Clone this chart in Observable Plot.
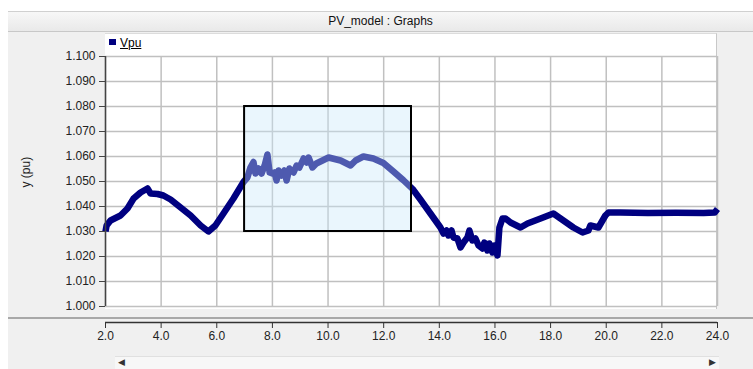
<!DOCTYPE html>
<html>
<head>
<meta charset="utf-8">
<script src="https://cdn.jsdelivr.net/npm/d3@7"></script>
<script src="https://cdn.jsdelivr.net/npm/@observablehq/plot@0.6"></script>
<style>
  html, body { margin: 0; padding: 0; background: #ffffff; }
  #wrap { position: relative; width: 753px; height: 369px; overflow: hidden; font-family: "Liberation Sans", Arial, sans-serif; }
  .layer { position: absolute; }
  #bg { left: 8px; top: 11px; width: 745px; height: 358px; background: #f0f0f0; }
  #header { left: 8px; top: 11px; width: 745px; height: 21px; background: linear-gradient(#f7f7f7, #e9e9e9); border-top: 1px solid #d0d0d0; border-bottom: 1px solid #c8c8c8; box-sizing: border-box; text-align: center; font-size: 12px; line-height: 19px; color: #111; }
  #panel { left: 105px; top: 33px; width: 612px; height: 276px; background: #ffffff; border-right: 1px solid #c8c8c8; border-top: 1px solid #dcdcdc; box-sizing: border-box; }
  #sep { left: 8px; top: 317px; width: 745px; height: 2px; background: #a8a8a8; }
  #scroll { left: 115px; top: 356px; width: 604px; height: 13px; background: #f7f7f7; border-top: 1px solid #e0e0e0; }
  #scroll .al { position: absolute; left: 3px; top: 0px; font-size: 9px; color: #333; }
  #scroll .ar { position: absolute; right: 3px; top: 0px; font-size: 9px; color: #333; }
  #legend { left: 109px; top: 36px; font-size: 12px; color: #000; }
  #legend .sw { display: inline-block; width: 7px; height: 6px; background: #000080; margin-right: 4px; vertical-align: 2px; }
  #legend .lb { text-decoration: underline; }
  #chart { left: 0; top: 0; }
</style>
</head>
<body>
<div id="wrap">
  <div class="layer" id="bg"></div>
  <div class="layer" id="header">PV_model : Graphs</div>
  <div class="layer" id="panel"></div>
  <div class="layer" id="sep"></div>
  <div class="layer" id="scroll"><span class="al">&#9664;</span><span class="ar">&#9654;</span></div>
  <div class="layer" id="legend"><span class="sw"></span><span class="lb">Vpu</span></div>
  <div class="layer" id="chart"></div>
</div>
<script>
// ---- data ----
const seriesName = "Vpu";
const yLabel = "y (pu)";
const xDomain = [2, 24];
const yDomain = [1.0, 1.1];
const xTicks = [2, 4, 6, 8, 10, 12, 14, 16, 18, 20, 22, 24];
const yTicks = [1.0, 1.01, 1.02, 1.03, 1.04, 1.05, 1.06, 1.07, 1.08, 1.09, 1.1];
const highlightX = [7, 13];
const highlightY = [1.03, 1.08];

const time = [2.00,2.04,2.18,2.54,2.79,3.01,3.26,3.51,3.62,3.87,4.08,4.34,4.70,5.06,5.42,5.70,5.95,6.24,6.60,6.96,
  7.10,7.21,7.32,7.39,7.50,7.61,7.72,7.82,7.90,8.00,8.08,8.15,8.22,8.33,8.43,8.51,8.61,8.76,8.87,8.97,9.12,9.23,9.30,9.44,9.58,9.80,10.02,
  10.45,10.81,10.99,11.27,11.63,11.99,12.35,12.71,13.04,13.32,13.68,14.04,14.15,14.26,14.33,14.44,14.51,14.65,14.76,14.87,
  15.01,15.08,15.19,15.30,15.41,15.55,15.62,15.73,15.80,15.91,15.98,16.09,16.16,16.27,16.38,16.56,16.92,17.17,17.64,18.10,
  18.46,18.82,19.15,19.36,19.43,19.72,19.97,20.08,20.51,21.5,22.5,23.5,23.9,24.0];
const vpu = [1.0300,1.0324,1.0344,1.0364,1.0392,1.0432,1.0456,1.0472,1.0452,1.0450,1.0444,1.0428,1.0396,1.0364,1.0324,1.0300,1.0324,1.0372,1.0432,1.0498,
  1.0516,1.0556,1.0578,1.0532,1.0552,1.0532,1.0564,1.0608,1.0536,1.0532,1.0536,1.0504,1.0544,1.0524,1.0544,1.0504,1.0552,1.0536,1.0564,1.0556,1.0592,1.0576,1.0596,1.0556,1.0572,1.0584,1.0596,
  1.0584,1.0564,1.0584,1.0600,1.0592,1.0574,1.0540,1.0505,1.0470,1.0428,1.0372,1.0316,1.0292,1.0304,1.0284,1.0304,1.0276,1.0272,1.0236,1.0256,
  1.0276,1.0304,1.0264,1.0272,1.0244,1.0232,1.0256,1.0224,1.0252,1.0216,1.0244,1.0204,1.0316,1.0352,1.0352,1.0336,1.0316,1.0332,1.0352,1.0372,
  1.0344,1.0316,1.0296,1.0304,1.0324,1.0316,1.0364,1.0376,1.0376,1.0374,1.0375,1.0374,1.0376,1.0390];

const data = time.map((t, i) => ({t, v: vpu[i], series: seriesName}));
const box = [{x1: highlightX[0], x2: highlightX[1], y1: highlightY[0], y2: highlightY[1]}];

const chart = Plot.plot({
  width: 753,
  height: 369,
  marginLeft: 105,
  marginRight: 36,
  marginTop: 56,
  marginBottom: 63,
  style: {background: "transparent", fontFamily: "Liberation Sans, Arial, sans-serif", fontSize: "12px", color: "#222", overflow: "visible"},
  x: {domain: xDomain},
  y: {domain: yDomain},
  marks: [
    Plot.gridX(xTicks, {stroke: "#c0c0c0", strokeOpacity: 1, strokeWidth: 1.5}),
    Plot.gridY(yTicks, {stroke: "#c0c0c0", strokeOpacity: 1, strokeWidth: 1.5}),
    Plot.line(data, {x: "t", y: "v", stroke: "#000080", strokeWidth: 6.5, strokeLinejoin: "round", strokeLinecap: "butt"}),
    Plot.rect(box, {x1: "x1", x2: "x2", y1: "y1", y2: "y2", fill: "rgb(200,232,250)", fillOpacity: 0.39}),
    Plot.rect(box, {x1: "x1", x2: "x2", y1: "y1", y2: "y2", fill: "none", stroke: "#000", strokeWidth: 2}),
    Plot.ruleX([xDomain[0]], {stroke: "#444", strokeWidth: 1.5}),
    Plot.axisY(yTicks, {tickFormat: d3.format(".3f"), tickSize: 6, tickPadding: 4, label: null, stroke: "#444"}),
    Plot.ruleY([yDomain[0]], {stroke: "#333", strokeWidth: 1.5, dy: 16}),
    Plot.axisX(xTicks, {tickFormat: d3.format(".1f"), tickSize: 6, tickPadding: 3, label: null, dy: 16, stroke: "#333"}),
    Plot.text([yLabel], {frameAnchor: "left", dx: -79, dy: 6, rotate: -90, text: d => d, fontSize: 12, fill: "#222"})
  ]
});
document.getElementById("chart").appendChild(chart);
</script>
</body>
</html>
